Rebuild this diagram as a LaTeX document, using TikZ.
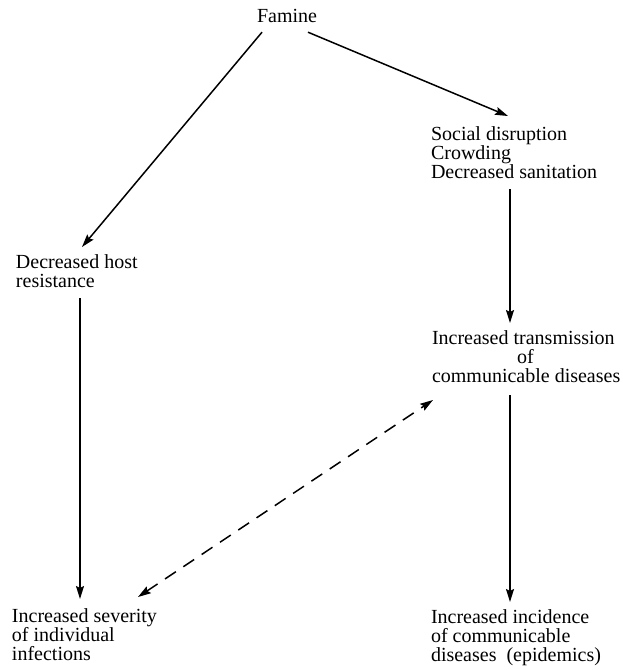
\documentclass[tikz,border=0pt]{standalone}
\usepackage{fontspec}
\setmainfont{Liberation Serif}
\usetikzlibrary{arrows.meta,calc}
\begin{document}
\begin{tikzpicture}[x=1pt,y=-1pt,
  txt/.style={inner sep=0pt,outer sep=0pt,align=left,anchor=north west,font=\fontsize{20}{18.7}\selectfont},
  arr/.style={line width=1.5pt,-{Stealth[length=13pt,width=8pt,inset=2pt]}},
  darr/.style={line width=1.5pt,dash pattern=on 13pt off 9pt,{Stealth[length=13pt,width=8pt,inset=2pt]}-{Stealth[length=13pt,width=8pt,inset=2pt]}}]
\useasboundingbox (0,0) rectangle (623,670);
\node[txt,anchor=base] (famine) at (287,22) {Famine};
\node[txt] (social) at (431,127) {Social disruption\\Crowding\\Decreased sanitation};
\node[txt] (host) at (16,255) {Decreased host\\resistance};
\node[txt] (trans) at (432,331) {Increased transmission\\\hspace*{85pt}of\\communicable diseases};
\node[txt] (sev) at (12,609) {Increased severity\\of individual\\infections};
\node[txt] (inc) at (431,610) {Increased incidence\\of communicable\\diseases\ \ (epidemics)};
\draw[arr] ($(famine.south)+(-25,10)$) -- ($(host.north west)+(66,-8)$);
\draw[arr] ($(famine.south)+(21,10)$) -- ($(social.north west)+(77,-11)$);
\draw[arr] ($(social.north west)+(79,62)$) -- ($(trans.north west)+(78,-8)$);
\draw[arr] ($(host.north west)+(64,43)$) -- ($(sev.north west)+(68,-10)$);
\draw[arr] ($(trans.north west)+(78,64)$) -- ($(inc.north west)+(79,-8)$);
\draw[darr] ($(sev.north west)+(126,-12)$) -- ($(trans.north west)+(1,69)$);
\end{tikzpicture}
\end{document}
